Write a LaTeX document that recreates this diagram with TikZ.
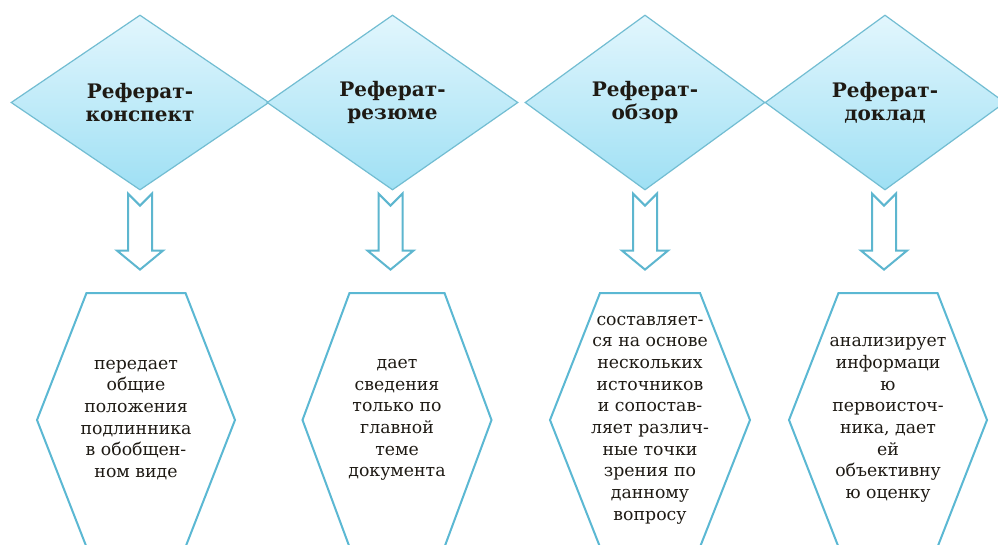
\documentclass[tikz,border=0pt]{standalone}
\usepackage{fontspec}
\setmainfont{DejaVu Serif}
\usetikzlibrary{shapes.geometric,calc}
\definecolor{dborder}{HTML}{72BDD2}
\definecolor{dtop}{HTML}{E2F6FD}
\definecolor{dbot}{HTML}{9FE0F4}
\definecolor{hexcol}{HTML}{5BB8D3}
\definecolor{arrcol}{HTML}{5DB6CF}
\definecolor{txtcol}{HTML}{1E1A14}
\newcommand\myblockarrow[1]{%
  \draw[barrow] ($(#1)+(-12,0)$) -- ++(12,12) -- ++(12,-12) -- ++(0,57) -- ++(11,0)
    -- ++(-23,19) -- ++(-23,-19) -- ++(11,0) -- cycle;}
\newcommand\myhexshape[3]{%
  \draw[hexline] ($(#1)+(-#2,-127)$) -- ($(#1)+(#2,-127)$) -- ($(#1)+(#3,0)$)
    -- ($(#1)+(#2,127)$) -- ($(#1)+(-#2,127)$) -- ($(#1)+(-#3,0)$) -- cycle;}
\begin{document}
\begin{tikzpicture}[x=1pt,y=-1pt,
  dia/.style={diamond, draw=dborder, line width=1.2pt, top color=dtop, bottom color=dbot,
    minimum width=#1, minimum height=175pt, inner sep=0pt, align=center, text=txtcol,
    font=\fontsize{20}{23}\selectfont\bfseries},
  hextext/.style={align=center, inner sep=0pt, text=txtcol, font=\fontsize{17.3}{21.7}\selectfont},
  hexline/.style={draw=hexcol, line width=2pt, line join=miter},
  barrow/.style={draw=arrcol, fill=white, line width=2pt, line join=miter}]
\useasboundingbox (0,0) rectangle (998,544);
\clip (0,0) rectangle (998,544);
\fill[white] (0,0) rectangle (998,544);

% diamonds
\node[dia=258pt] (d1) at (140,102.5) {Реферат-\\конспект};
\node[dia=251pt] (d2) at (392.5,102.5) {Реферат-\\резюме};
\node[dia=240pt] (d3) at (645,102.5) {Реферат-\\обзор};
\node[dia=240pt] (d4) at (885,102.5) {Реферат-\\доклад};

% hexagon texts
\node[hextext] (h1) at (136,420) {передает\\общие\\положения\\подлинника\\в обобщен-\\ном виде};
\node[hextext] (h2) at (397,420) {дает\\сведения\\только по\\главной\\теме\\документа};
\node[hextext] (h3) at (650,420) {составляет-\\ся на основе\\нескольких\\источников\\и сопостав-\\ляет различ-\\ные точки\\зрения по\\данному\\вопросу};
\node[hextext] (h4) at (888,420) {анализирует\\информаци\\ю\\первоисточ-\\ника, дает\\ей\\объективну\\ю оценку};

% hexagons
\myhexshape{h1}{49.5}{99}
\myhexshape{h2}{47.5}{94.5}
\myhexshape{h3}{50}{100}
\myhexshape{h4}{49.5}{99}

% block arrows from diamonds to hexagons
\coordinate (a1) at ($(d1.south)+(0,3)$);
\coordinate (a2) at ($(d2.south)+(-2,3)$);
\coordinate (a3) at ($(d3.south)+(0,3)$);
\coordinate (a4) at ($(d4.south)+(-1,3)$);
\myblockarrow{a1}
\myblockarrow{a2}
\myblockarrow{a3}
\myblockarrow{a4}
\end{tikzpicture}
\end{document}
